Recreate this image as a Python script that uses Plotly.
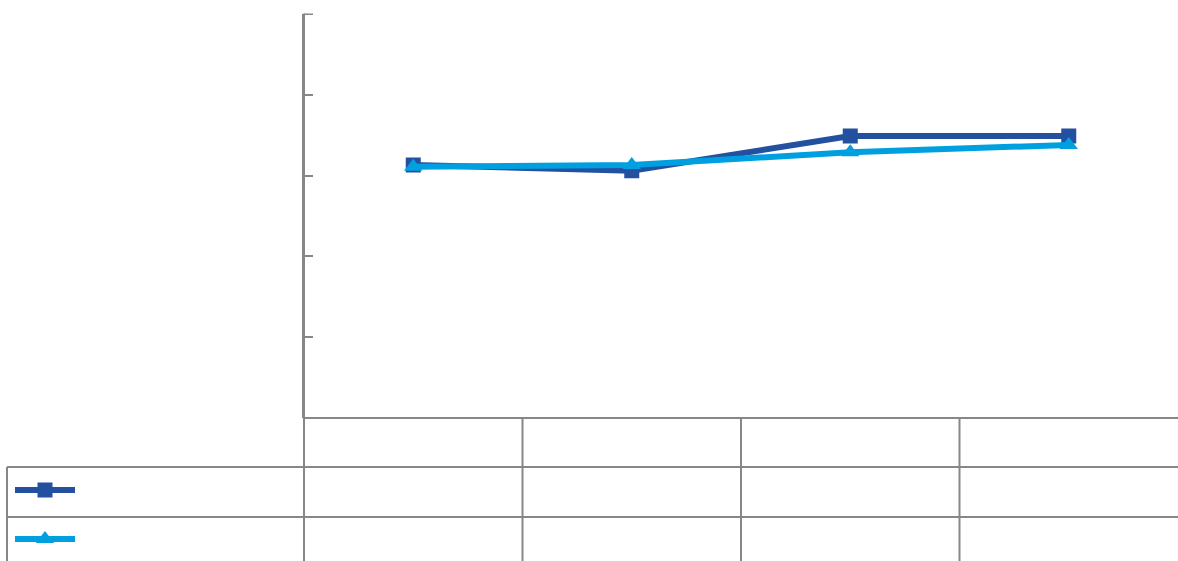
import plotly.graph_objects as go

W, H = 1178, 561

categories = ["1", "2", "3", "4"]
series_a = [3.13, 3.06, 3.49, 3.49]
series_b = [3.11, 3.13, 3.29, 3.38]
y_ticks = [0, 1, 2, 3, 4, 5]

DARK = "#2450A0"
LIGHT = "#00A0E0"
GRID = "#878787"

xi = list(range(len(categories)))

fig = go.Figure()
fig.add_trace(go.Scatter(
    x=xi, y=series_a, mode="lines+markers", name="",
    line=dict(color=DARK, width=6),
    marker=dict(symbol="square", size=15, color=DARK),
    legend="legend",
))
fig.add_trace(go.Scatter(
    x=xi, y=series_b, mode="lines+markers", name="",
    line=dict(color=LIGHT, width=6),
    marker=dict(symbol="triangle-up", size=16, color=LIGHT),
    legend="legend2",
))

x0 = 304 / W
ybot = (H - 418) / H
ytop = (H - 13.5) / H

def py(p):
    return (H - p) / H

def px(p):
    return p / W

shapes = []
lw = dict(color=GRID, width=2)
shapes.append(dict(type="line", xref="paper", yref="paper", x0=x0, x1=1, y0=py(418), y1=py(418), line=lw))
for yy in (467, 517):
    shapes.append(dict(type="line", xref="paper", yref="paper", x0=px(7), x1=1, y0=py(yy), y1=py(yy), line=lw))
shapes.append(dict(type="line", xref="paper", yref="paper", x0=x0, x1=x0, y0=0, y1=ytop, line=lw))
shapes.append(dict(type="line", xref="paper", yref="paper", x0=px(7), x1=px(7), y0=0, y1=py(467), line=lw))
for b in [i + 0.5 for i in xi[:-1]]:
    shapes.append(dict(type="line", xref="x", yref="paper", x0=b, x1=b, y0=0, y1=ybot, line=lw))
# top tick mark (end of axis)
shapes.append(dict(type="line", xref="paper", yref="y", x0=x0, x1=px(313), y0=y_ticks[-1], y1=y_ticks[-1], line=lw))

fig.update_layout(
    width=W, height=H,
    margin=dict(l=0, r=0, t=0, b=0),
    paper_bgcolor="white", plot_bgcolor="white",
    xaxis=dict(domain=[x0, 1], range=[-0.5, len(categories) - 0.5],
               showgrid=False, zeroline=False, showticklabels=False, showline=False),
    yaxis=dict(domain=[ybot, ytop], range=[0, 5.006], tickvals=y_ticks,
               showgrid=False, zeroline=False, showticklabels=False,
               showline=True, linecolor=GRID, linewidth=2,
               ticks="inside", ticklen=9, tickcolor=GRID, tickwidth=2),
    shapes=shapes,
    showlegend=True,
    legend=dict(x=px(10), y=py(490), xanchor="left", yanchor="middle",
                itemwidth=60, bgcolor="rgba(0,0,0,0)", font=dict(size=12)),
    legend2=dict(x=px(10), y=py(539), xanchor="left", yanchor="middle",
                 itemwidth=60, bgcolor="rgba(0,0,0,0)", font=dict(size=12)),
)

fig.write_html("out.html", config={"displayModeBar": False},
               post_script="document.body.style.margin='0';document.body.style.overflow='hidden';")
